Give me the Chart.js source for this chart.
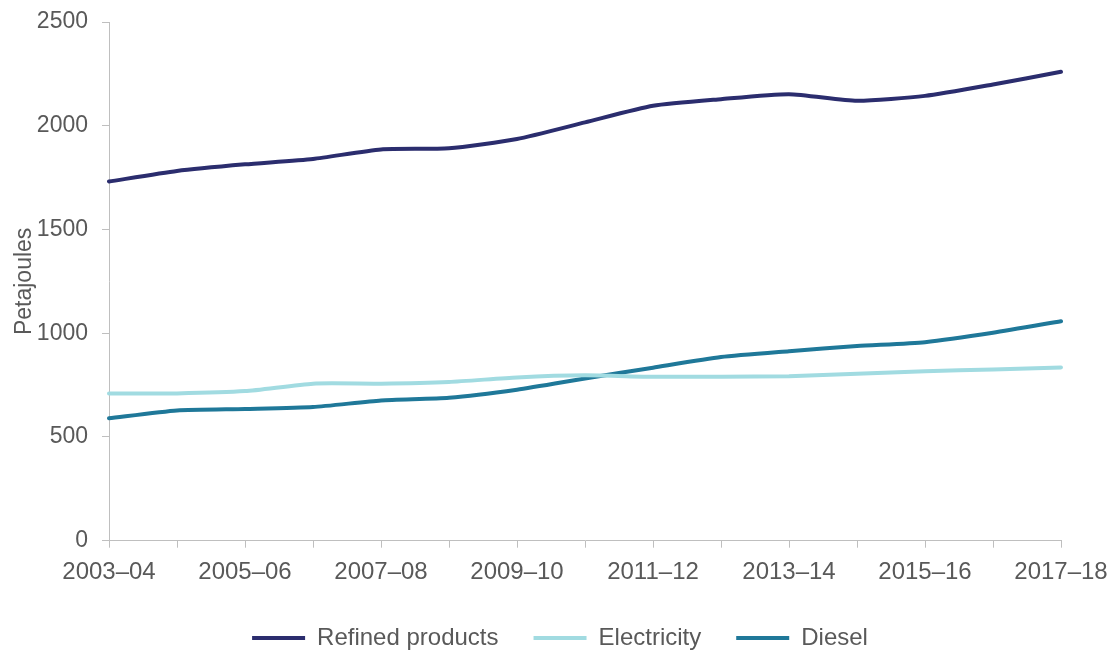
<!DOCTYPE html>
<html>
<head>
<meta charset="utf-8">
<script src="https://cdn.jsdelivr.net/npm/chart.js@4.4.1/dist/chart.umd.min.js"></script>
<style>
  html, body { margin: 0; padding: 0; background: #fff; }
  #wrap { width: 1120px; height: 656px; }
</style>
</head>
<body>
<div id="wrap"><canvas id="myChart"></canvas></div>
<script>
// financial years
var years = ['2003–04', '2004–05', '2005–06', '2006–07', '2007–08', '2008–09', '2009–10',
  '2010–11', '2011–12', '2012–13', '2013–14', '2014–15', '2015–16', '2016–17', '2017–18'];

// petajoules
var refinedProducts = [1731, 1782, 1814, 1840, 1886, 1891, 1936, 2016, 2096, 2128, 2152, 2120, 2144, 2199, 2260];
var electricity = [709, 710, 721, 757, 757, 765, 787, 797, 790, 790, 793, 805, 817, 825, 835];
var diesel = [590, 628, 635, 644, 676, 689, 728, 782, 834, 885, 913, 938, 957, 1002, 1058];

var yTicks = [0, 500, 1000, 1500, 2000, 2500];

var grey = '#595959';
var axisGrey = '#bfbfbf';
Chart.defaults.font.family = "'Liberation Sans', Arial, sans-serif";
Chart.defaults.color = grey;

var ctx = document.getElementById('myChart').getContext('2d');
var chart = new Chart(ctx, {
  type: 'line',
  data: {
    labels: years,
    datasets: [{
      label: 'Refined products',
      data: refinedProducts,
      borderColor: '#2b2d6e',
      backgroundColor: '#2b2d6e'
    }, {
      label: 'Electricity',
      data: electricity,
      borderColor: '#a1dbe1',
      backgroundColor: '#a1dbe1'
    }, {
      label: 'Diesel',
      data: diesel,
      borderColor: '#1f7899',
      backgroundColor: '#1f7899'
    }]
  },
  options: {
    responsive: true,
    maintainAspectRatio: false,
    animation: false,
    layout: { padding: { top: 22, right: 0, bottom: -4, left: 0 } },
    elements: {
      line: { borderWidth: 4, tension: 0.2, borderCapStyle: 'round', fill: false },
      // legend takes its line width from the point style
      point: { radius: 0, hoverRadius: 0, borderWidth: 4 }
    },
    plugins: {
      tooltip: { enabled: false },
      legend: {
        position: 'bottom',
        labels: {
          usePointStyle: true,
          pointStyle: 'line',
          pointStyleWidth: 53,
          padding: 35,
          color: grey,
          font: { size: 24 }
        }
      }
    },
    scales: {
      x: {
        offset: false,
        border: { color: axisGrey, width: 1 },
        grid: { display: true, drawOnChartArea: false, tickLength: 7, color: axisGrey },
        ticks: {
          autoSkip: false,
          maxRotation: 0,
          padding: 10,
          font: { size: 24 },
          color: grey,
          callback: function (val, i) { return i % 2 === 0 ? this.getLabelForValue(val) : ''; }
        },
        afterFit: function (scale) {
          scale.height = 50.3;
          scale.paddingRight = 59;
        }
      },
      y: {
        min: 0,
        max: 2500,
        border: { color: axisGrey, width: 1 },
        grid: { display: true, drawOnChartArea: false, tickLength: 7, color: axisGrey },
        afterBuildTicks: function (scale) { scale.ticks = yTicks.map(function (v) { return { value: v }; }); },
        ticks: {
          padding: 14,
          font: { size: 23 },
          color: grey,
          callback: function (v) { return String(v); }
        },
        title: {
          display: true,
          text: 'Petajoules',
          color: grey,
          font: { size: 23 },
          padding: { top: 11, bottom: 0 }
        },
        afterFit: function (scale) {
          scale.width = 109;
          scale.paddingTop = 0;
        }
      }
    }
  }
});
</script>
</body>
</html>
